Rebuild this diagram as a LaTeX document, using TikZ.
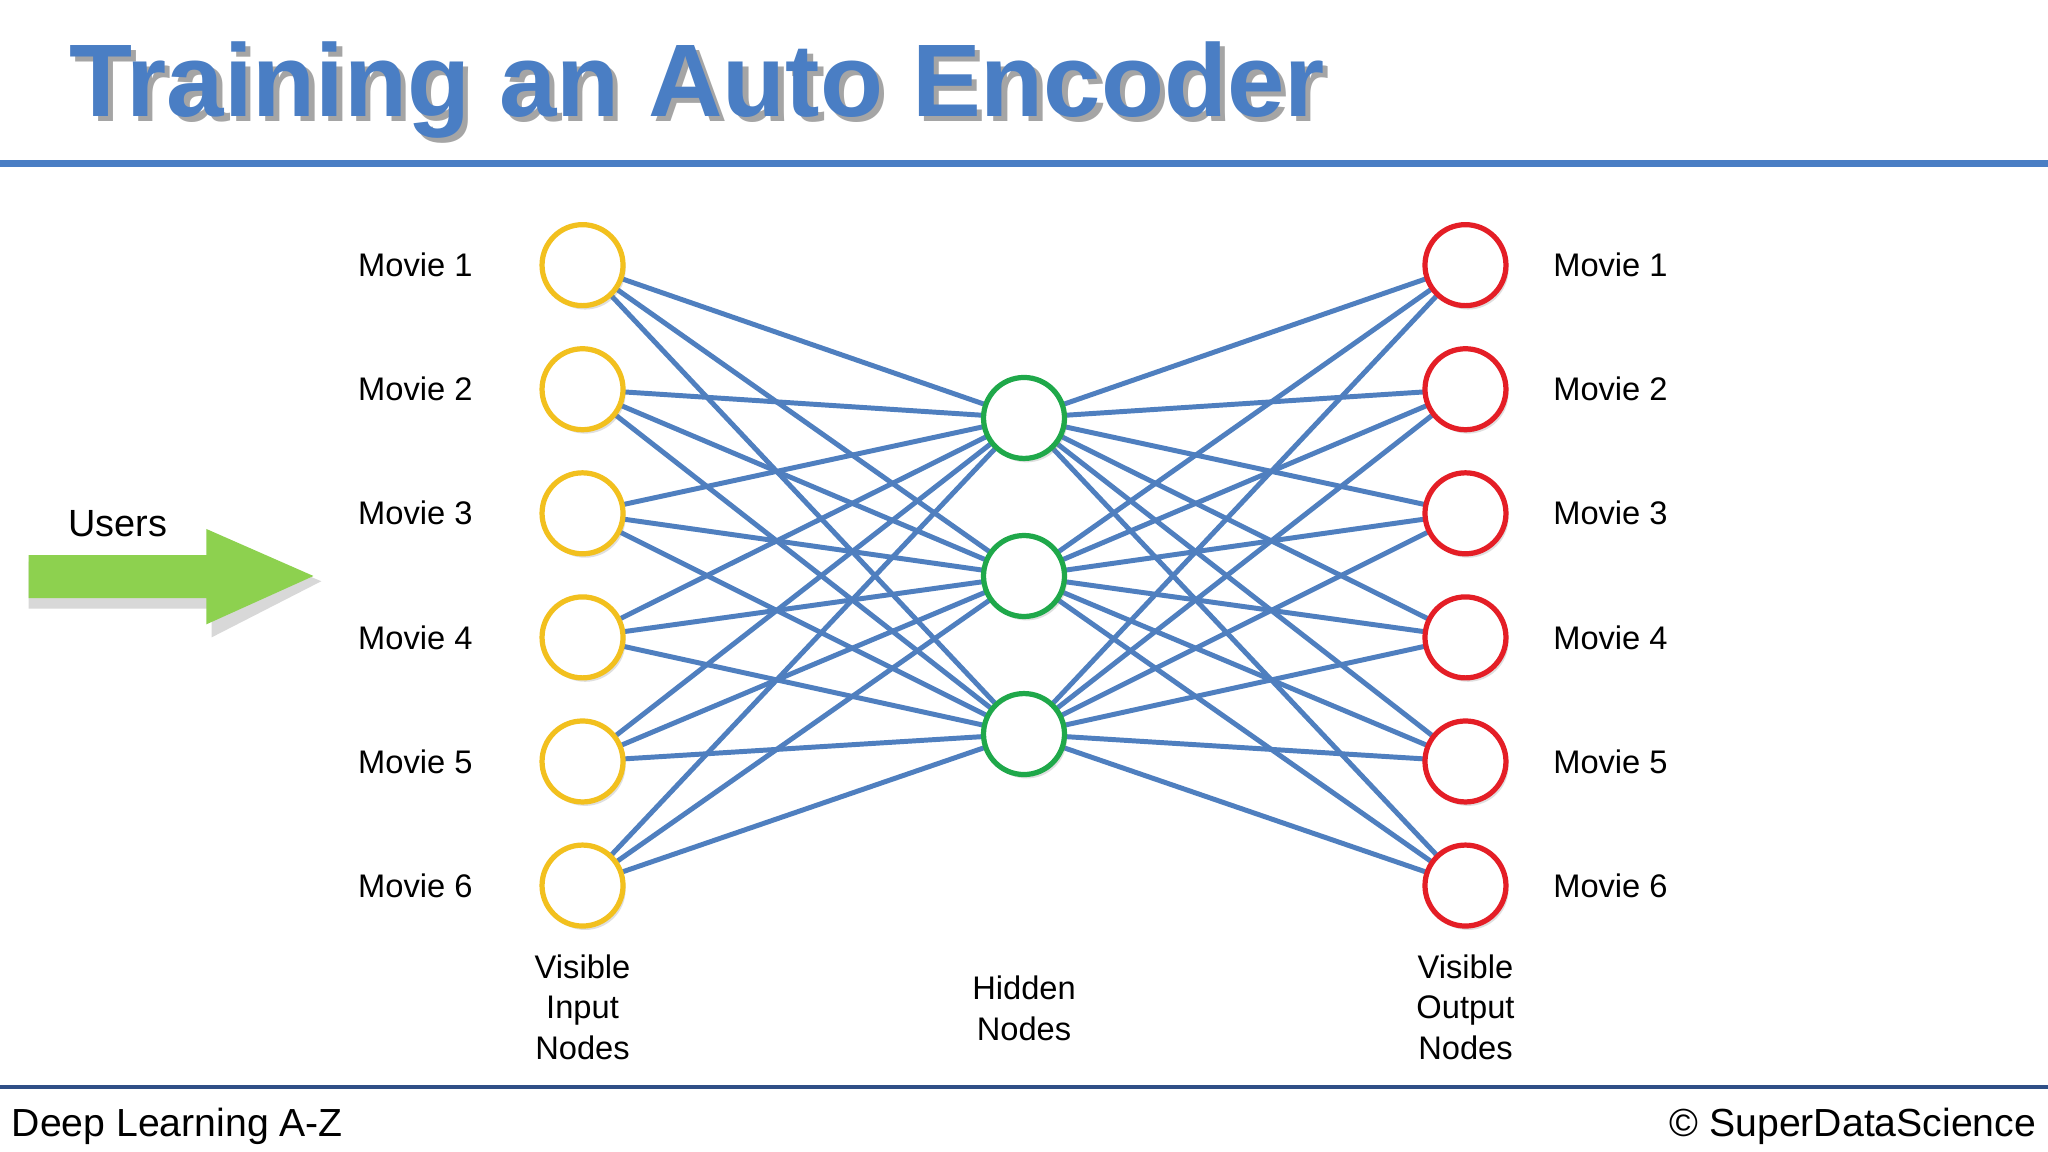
\documentclass[tikz,border=0pt]{standalone}
\usepackage{fontspec}
\setmainfont{Liberation Sans}
\usetikzlibrary{shadows}
\definecolor{tblue}{HTML}{4A7EC4}
\definecolor{lblue}{HTML}{4F7FBF}
\definecolor{dblue}{HTML}{2F4F86}
\definecolor{yel}{HTML}{F2C01E}
\definecolor{grn}{HTML}{1FA84A}
\definecolor{rd}{HTML}{E41E26}
\definecolor{agrn}{HTML}{8DD14F}
\begin{document}
\begin{tikzpicture}[x=0.5pt,y=-0.5pt,
 nd/.style={circle,draw,line width=2pt,minimum size=31pt,inner sep=0pt,fill=white,drop shadow={opacity=0.25,shadow xshift=1pt,shadow yshift=-1.5pt}},
 lab/.style={font=\fontsize{12.5}{14}\selectfont},
 captxt/.style={font=\fontsize{12.5}{15.5}\selectfont,align=center},
 con/.style={lblue,line width=1.9pt}]
\useasboundingbox (0,0) rectangle (1568,882);
\fill[white] (0,0) rectangle (1568,882);
\node[anchor=west,font=\bfseries\fontsize{39.5}{42}\selectfont,text=black!70,opacity=0.5] at (50,73) {Training an Auto Encoder};
\node[anchor=west,font=\bfseries\fontsize{39.5}{42}\selectfont,text=tblue] (title) at (46,69) {Training an Auto Encoder};
\draw[tblue,line width=2.5pt] (0,125) -- (1568,125);
\draw[dblue,line width=1.5pt] (0,832) -- (1568,832);
\node[anchor=west,font=\fontsize{15}{17}\selectfont] (f1) at (2,862) {Deep Learning A-Z};
\node[anchor=east,font=\fontsize{15}{17}\selectfont] (f2) at (1566,862) {© SuperDataScience};
% arrow
\fill[black!25,opacity=0.6] (22,430)--(162,430)--(162,410)--(246,445)--(162,488)--(162,466)--(22,466)--cycle;
\fill[agrn] (22,425)--(158,425)--(158,405)--(240,441)--(158,478)--(158,458)--(22,458)--cycle;
\node[font=\fontsize{14.5}{16}\selectfont] (users) at (90,401) {Users};
\foreach \i/\y in {1/203,2/298,3/393,4/488,5/583,6/678}{
 \coordinate (pi\i) at (446,\y);
 \coordinate (po\i) at (1122,\y);
}
\foreach \j/\y in {1/320,2/441,3/562}{\coordinate (ph\j) at (784,\y);}
\foreach \i in {1,...,6}{\foreach \j in {1,2,3}{
 \draw[con] (pi\i) -- (ph\j); \draw[con] (ph\j) -- (po\i);}}
\foreach \i/\y in {1/203,2/298,3/393,4/488,5/583,6/678}{
 \node[nd,draw=yel] (in\i) at (pi\i) {};
 \node[nd,draw=rd] (out\i) at (po\i) {};
 \node[lab] (li\i) at (318,\y) {Movie \i};
 \node[lab] (lo\i) at (1233,\y) {Movie \i};
}
\foreach \j in {1,2,3}{\node[nd,draw=grn] (h\j) at (ph\j) {};}
\node[captxt] (c1) at (446,771) {Visible\\Input\\Nodes};
\node[captxt] (c2) at (784,772) {Hidden\\Nodes};
\node[captxt] (c3) at (1122,771) {Visible\\Output\\Nodes};
\end{tikzpicture}
\end{document}
